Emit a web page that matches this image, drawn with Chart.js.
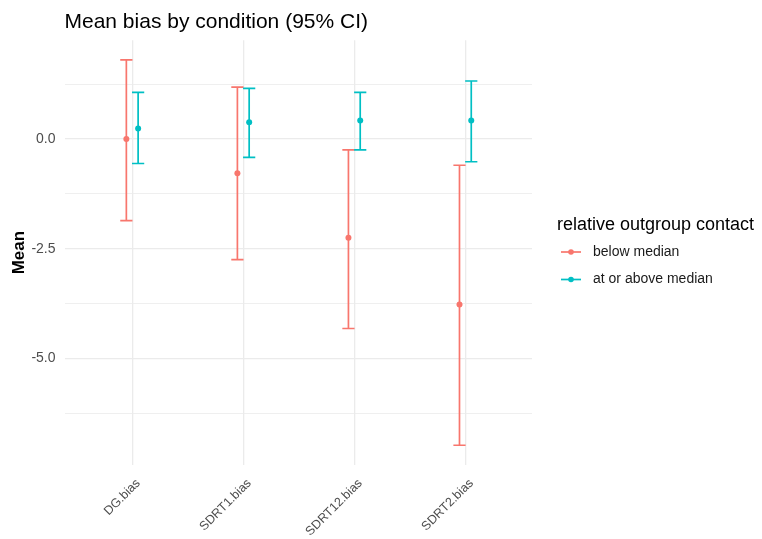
<!DOCTYPE html>
<html>
<head>
<meta charset="utf-8">
<script src="https://cdn.jsdelivr.net/npm/chart.js@4/dist/chart.umd.min.js"></script>
<style>
  html, body { margin: 0; padding: 0; background: #ffffff; }
  canvas { display: block; }
</style>
</head>
<body>
<canvas id="chart" width="762" height="539"></canvas>
<script>
// Conditions on the x axis
const categories = ['DG.bias', 'SDRT1.bias', 'SDRT12.bias', 'SDRT2.bias'];
// Groups of relative outgroup contact
const groupNames = ['below median', 'at or above median'];

// Mean bias and 95% CI bounds per condition
const belowMean  = [0.00, -0.78, -2.25, -3.77];
const belowLower = [-1.86, -2.75, -4.32, -6.98];
const belowUpper = [1.80, 1.18, -0.25, -0.60];

const aboveMean  = [0.24, 0.38, 0.42, 0.42];
const aboveLower = [-0.56, -0.42, -0.25, -0.52];
const aboveUpper = [1.06, 1.15, 1.06, 1.32];

// Y axis ticks: labelled major breaks and unlabelled minor breaks
const yMajorTicks  = [-5, -2.5, 0];
const yMajorLabels = ['-5.0', '-2.5', '0.0'];
const yMinorTicks  = [-6.25, -3.75, -1.25, 1.25];

const FONT = '"Liberation Sans", Arial, Helvetica, sans-serif';
const RED = '#F8766D';
const CYAN = '#00BFC4';
const DODGE = 0.053;     // horizontal offset of each group from the category centre
const CAP = 0.055;       // half width of the error bar caps (x units)

function points(means, sign) {
  return means.map((m, i) => ({ x: i + 1 + sign * DODGE, y: m }));
}

// Draws vertical CI whiskers with caps beneath the mean points
const errorBars = {
  id: 'errorBars',
  beforeDatasetsDraw(chart) {
    const { ctx, scales: { x, y } } = chart;
    chart.data.datasets.forEach((ds, di) => {
      if (!chart.isDatasetVisible(di)) return;
      ctx.save();
      ctx.strokeStyle = ds.borderColor;
      ctx.lineWidth = 1.7;
      ds.data.forEach((pt, i) => {
        const px = x.getPixelForValue(pt.x);
        const cl = x.getPixelForValue(pt.x - CAP);
        const cr = x.getPixelForValue(pt.x + CAP);
        const yl = y.getPixelForValue(ds.ciLower[i]);
        const yh = y.getPixelForValue(ds.ciUpper[i]);
        ctx.beginPath();
        ctx.moveTo(px, yl); ctx.lineTo(px, yh);
        ctx.moveTo(cl, yl); ctx.lineTo(cr, yl);
        ctx.moveTo(cl, yh); ctx.lineTo(cr, yh);
        ctx.stroke();
      });
      ctx.restore();
    });
  }
};

// Legend at the right side: title plus line-and-point keys
const sideLegend = {
  id: 'sideLegend',
  afterDraw(chart, args, opts) {
    const ctx = chart.ctx;
    ctx.save();
    ctx.textAlign = 'left';
    ctx.textBaseline = 'middle';
    ctx.fillStyle = '#000000';
    ctx.font = '18px ' + FONT;
    ctx.fillText(opts.title, opts.x, opts.titleY);
    chart.data.datasets.forEach((ds, i) => {
      const yy = opts.firstY + i * opts.step;
      ctx.strokeStyle = ds.borderColor;
      ctx.lineWidth = 1.7;
      ctx.beginPath();
      ctx.moveTo(opts.x + 4, yy);
      ctx.lineTo(opts.x + 24, yy);
      ctx.stroke();
      ctx.fillStyle = ds.backgroundColor;
      ctx.beginPath();
      ctx.arc(opts.x + 14, yy, 2.8, 0, Math.PI * 2);
      ctx.fill();
      ctx.fillStyle = '#1a1a1a';
      ctx.font = '14px ' + FONT;
      ctx.fillText(ds.label, opts.x + 36, yy);
    });
    ctx.restore();
  }
};

const yAllTicks = yMinorTicks.concat(yMajorTicks).sort((a, b) => a - b);

new Chart(document.getElementById('chart'), {
  type: 'scatter',
  data: {
    datasets: [
      {
        label: groupNames[0],
        data: points(belowMean, -1),
        ciLower: belowLower,
        ciUpper: belowUpper,
        borderColor: RED,
        backgroundColor: RED,
        pointRadius: 3,
        pointBorderWidth: 0
      },
      {
        label: groupNames[1],
        data: points(aboveMean, 1),
        ciLower: aboveLower,
        ciUpper: aboveUpper,
        borderColor: CYAN,
        backgroundColor: CYAN,
        pointRadius: 3,
        pointBorderWidth: 0
      }
    ]
  },
  options: {
    responsive: false,
    animation: false,
    events: [],
    layout: { padding: { left: 0, right: 230, top: 0, bottom: 0 } },
    plugins: {
      legend: { display: false },
      tooltip: { enabled: false },
      title: {
        display: true,
        text: 'Mean bias by condition (95% CI)',
        align: 'start',
        fullSize: false,
        color: '#000000',
        font: { family: FONT, size: 21, weight: 'normal' },
        padding: { top: 10, bottom: 5 }
      },
      sideLegend: {
        title: 'relative outgroup contact',
        x: 557,
        titleY: 225,
        firstY: 252,
        step: 27.5
      }
    },
    scales: {
      x: {
        type: 'linear',
        min: 0.39,
        max: 4.6,
        afterFit(scale) { scale.height = 74; },
        afterBuildTicks(scale) {
          scale.ticks = categories.map((_, i) => ({ value: i + 1 }));
        },
        border: { display: false },
        grid: { color: '#ebebeb', lineWidth: 1.3, drawTicks: false },
        ticks: {
          autoSkip: false,
          minRotation: 45,
          maxRotation: 45,
          labelOffset: 6,
          padding: 11,
          color: '#4d4d4d',
          font: { family: FONT, size: 12.5 },
          callback: (v) => categories[Math.round(v) - 1]
        }
      },
      y: {
        min: -7.43,
        max: 2.25,
        afterFit(scale) { scale.width = 64.5; },
        afterBuildTicks(scale) {
          scale.ticks = yAllTicks.map((v) => ({ value: v }));
        },
        border: { display: false },
        grid: {
          color: '#ebebeb',
          drawTicks: false,
          lineWidth: (c) => (yMajorTicks.includes(c.tick && c.tick.value) ? 1.3 : 0.8)
        },
        ticks: {
          padding: 9,
          color: '#4d4d4d',
          font: { family: FONT, size: 14 },
          callback: (v) => {
            const k = yMajorTicks.indexOf(v);
            return k >= 0 ? yMajorLabels[k] : '';
          }
        },
        title: {
          display: true,
          text: 'Mean',
          color: '#000000',
          font: { family: FONT, size: 17, weight: 'bold' },
          padding: { top: 9, bottom: 0 }
        }
      }
    }
  },
  plugins: [errorBars, sideLegend]
});
</script>
</body>
</html>
